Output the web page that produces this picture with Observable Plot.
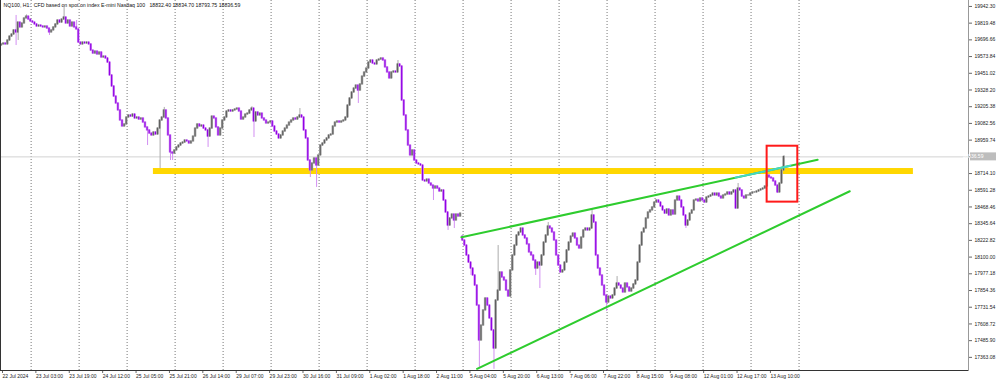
<!DOCTYPE html>
<html>
<head>
<meta charset="utf-8">
<script src="https://cdn.jsdelivr.net/npm/d3@7"></script>
<script src="https://cdn.jsdelivr.net/npm/@observablehq/plot@0.6"></script>
<style>
  html, body { margin: 0; padding: 0; background: #fff; }
  #chart { width: 1000px; height: 384px; }
</style>
</head>
<body>
<div id="chart"></div>
<script>
// ---- Data (NQ100, H1) ----
const headerText = "NQ100, H1:  CFD based on spot on index E-mini Nasdaq 100   18832.40 18834.70 18793.75 18836.59";
const firstOpen = 19655;
const closes = [
19663,19670,19663,19692,19721,19736,19766,19751,19824,19788,
19817,19854,19868,19846,19832,19824,19810,19795,19802,19795,
19788,19795,19780,19751,19766,19788,19810,19839,19824,19846,
19861,19817,19839,19795,19824,19788,19773,19677,19663,19677,
19670,19677,19663,19618,19596,19611,19589,19604,19567,19574,
19560,19530,19435,19354,19280,19229,19178,19104,19060,19075,
19126,19141,19133,19148,19119,19126,19111,19119,19089,19053,
19031,19008,18994,19016,19001,19045,19104,19126,19178,19119,
18994,18869,18861,18884,18906,18920,18935,18942,18957,18950,
18935,18950,18986,19045,19075,19060,19067,19045,19031,18986,
19045,19133,19119,19053,18994,19045,19104,19126,19170,19178,
19170,19178,19185,19192,19170,19111,19126,19148,19155,19178,
19192,19097,19163,19141,19155,19119,19104,19082,19089,19097,
19060,19023,19001,18972,18994,19023,19045,19067,19089,19104,
19119,19111,19126,19141,19126,19031,18972,18810,18737,18788,
18825,18773,18847,18920,18935,18957,18972,18994,19001,19060,
19089,19097,19089,19097,19104,19126,19214,19266,19310,19339,
19361,19324,19369,19427,19457,19486,19530,19545,19523,19516,
19545,19552,19560,19545,19494,19457,19413,19457,19464,19457,
19516,19501,19251,19141,19031,18920,18847,18884,18810,18788,
18781,18773,18663,18656,18670,18641,18626,18604,18619,18604,
18582,18590,18516,18428,18332,18384,18413,18369,18413,18398,
18420,18222,18185,18112,18060,18016,17965,17891,17744,17487,
17597,17708,17796,17744,17649,17561,17428,17781,17854,17987,
17950,17928,17854,17810,18002,18112,18185,18259,18281,18310,
18259,18237,18193,18134,18112,18075,18016,18060,18038,18112,
18207,18259,18325,18310,18281,18222,18112,18038,17987,18002,
18060,18149,18207,18251,18273,18237,18185,18163,18244,18296,
18310,18296,18310,18406,18354,18112,18016,17965,17891,17818,
17766,17810,17796,17818,17869,17906,17891,17869,17840,17906,
17877,17847,17869,17899,17928,18060,18185,18281,18310,18384,
18428,18443,18465,18501,18516,18501,18472,18443,18420,18450,
18406,18443,18413,18516,18545,18516,18465,18406,18332,18369,
18420,18443,18516,18523,18509,18531,18516,18501,18538,18545,
18553,18567,18553,18567,18545,18531,18553,18560,18575,18560,
18575,18590,18457,18604,18590,18545,18531,18553,18553,18567,
18575,18575,18582,18590,18597,18604,18619,18700,18685,18678,
18656,18626,18575,18641,18737,18836.59
];
// opens that differ from the previous close (weekend gap)
const openGaps = [[221, 18251]];
// notable upper / lower shadows [bar, price]
const wickHighs = [[7,19876],[12,19880],[30,19935],[36,19839],[78,19200],[120,19205],[143,19192],
  [190,19545],[238,18185],[262,18354],[283,18457],[295,17957],[353,18641],[375,18845]];
const wickLows = [[7,19655],[8,19692],[23,19729],[70,18920],[76,18751],[81,18810],[82,18810],
  [99,18906],[121,18979],[148,18685],[151,18612],[171,19229],[207,18516],[214,18296],[217,18310],
  [225,17965],[229,17289],[236,17275],[256,17965],[258,17869],[290,17700],[328,18310],[372,18567]];

// price axis ticks and time axis labels (every 16 bars)
const yTicks = [17363.08,17485.90,17608.72,17731.54,17854.36,17977.18,18100.00,18222.82,18345.64,
  18468.46,18591.28,18714.10,18836.92,18959.74,19082.56,19205.38,19328.20,19451.02,19573.84,
  19696.66,19819.48,19942.30];
const coveredTick = 18836.92; // hidden behind the current-price tag
const xLabels = ["22 Jul 2024","23 Jul 03:00","23 Jul 19:00","24 Jul 12:00","25 Jul 05:00","25 Jul 21:00",
  "26 Jul 14:00","29 Jul 07:00","29 Jul 23:00","30 Jul 16:00","31 Jul 09:00","1 Aug 02:00","1 Aug 18:00",
  "2 Aug 11:00","5 Aug 04:00","5 Aug 20:00","6 Aug 13:00","7 Aug 06:00","7 Aug 22:00","8 Aug 15:00",
  "9 Aug 08:00","12 Aug 01:00","12 Aug 17:00","13 Aug 10:00"];
const labelEvery = 16;
const gridStart = 14.2, gridEvery = 23, gridCount = 17;

// drawing annotations (bar index, price)
const supportLevel = {from: 72.8, to: 437, low: 18707, high: 18751};
const upperTrend = [{i: 220.4, p: 18246}, {i: 391.1, p: 18815}];
const upperHighlight = [{i: 351.7, p: 18684}, {i: 378, p: 18771}];
const lowerTrend = [{i: 227.9, p: 17279}, {i: 406.5, p: 18584}];
const boxZone = {x1: 366.9, x2: 381.6, y1: 18504, y2: 18915};

// ---- Build bars ----
const gapMap = new Map(openGaps);
const hiMap = new Map(wickHighs);
const loMap = new Map(wickLows);
const bars = closes.map((c, i) => {
  const o = gapMap.has(i) ? gapMap.get(i) : (i === 0 ? firstOpen : closes[i - 1]);
  const hi = Math.max(o, c, hiMap.get(i) ?? -Infinity);
  const lo = Math.min(o, c, loMap.get(i) ?? Infinity);
  return {i, open: o, close: c, high: hi, low: lo, up: c >= o};
});
const lastClose = closes[closes.length - 1];
const xTicks = xLabels.map((_, k) => k * labelEvery);
const gridX = d3.range(gridCount).map(k => gridStart + k * gridEvery);

const UP = "#5f5f5f", DOWN = "#9000e6";
const UPW = "#ababab", DOWNW = "#d28ff2";

const chart = Plot.plot({
  width: 1000, height: 384,
  marginTop: 0, marginLeft: 0, marginRight: 32, marginBottom: 14,
  style: {fontFamily: "'Liberation Sans', Arial, sans-serif", fontSize: "5px", background: "#fff", overflow: "visible"},
  x: {type: "linear", domain: [-0.48, 463.4], axis: null},
  y: {domain: [17266.5, 19986], axis: null},
  marks: [
    // period separators
    Plot.ruleX(gridX, {stroke: "#555", strokeWidth: 0.8, strokeDasharray: "1,2"}),
    // current price line
    Plot.ruleY([lastClose], {stroke: "#d2d2d2", strokeWidth: 1}),
    // support band
    Plot.rect([supportLevel], {x1: "from", x2: "to", y1: "low", y2: "high", fill: "#ffd700"}),
    // wicks
    Plot.ruleX(bars, {x: "i", y1: "low", y2: "high", stroke: d => d.up ? UPW : DOWNW, strokeWidth: 1}),
    // body halo
    Plot.rect(bars, {x1: d => d.i - 0.6, x2: d => d.i + 0.6, y1: "open", y2: "close",
      fill: d => d.up ? UPW : DOWNW, insetTop: -0.5, insetBottom: -0.5}),
    // body core
    Plot.rect(bars, {x1: d => d.i - 0.28, x2: d => d.i + 0.28, y1: "open", y2: "close",
      fill: d => d.up ? UP : DOWN, insetTop: -0.5, insetBottom: -0.5}),
    // trend lines
    Plot.line(upperTrend, {x: "i", y: "p", stroke: "#2ecc2e", strokeWidth: 2}),
    Plot.line(upperHighlight, {x: "i", y: "p", stroke: "#44d6c8", strokeWidth: 2}),
    Plot.line(lowerTrend, {x: "i", y: "p", stroke: "#2ecc2e", strokeWidth: 2}),
    // breakout box
    Plot.rect([boxZone], {x1: "x1", x2: "x2", y1: "y1", y2: "y2", fill: "none", stroke: "#ff1a1a", strokeWidth: 2}),
    // axes
    Plot.axisY(yTicks, {anchor: "right", tickSize: 3, tickPadding: 3,
      tickFormat: d => d === coveredTick ? "" : d.toFixed(2),
      fontSize: 5, fill: "#222", stroke: "#666"}),
    Plot.axisX(xTicks, {anchor: "bottom", tickSize: 3, tickPadding: 1, textAnchor: "start", dx: 1,
      tickFormat: d => xLabels[d / labelEvery], fontSize: 5, fill: "#222", stroke: "#666"}),
    Plot.frame({anchor: "bottom", stroke: "#333"}),
    Plot.frame({anchor: "left", stroke: "#333"}),
    Plot.frame({anchor: "right", stroke: "#999"}),
    // header
    Plot.text([headerText], {frameAnchor: "top-left", dx: 3, dy: 3, fontSize: 5.2, fill: "#111", textAnchor: "start"})
  ]
});

// current price tag on the price axis
const svg = d3.select(chart);
const yPos = chart.scale("y").apply(lastClose);
const xEdge = chart.scale("x").apply(463.4);
svg.append("rect").attr("x", xEdge + 2).attr("y", yPos - 4).attr("width", 26).attr("height", 8).attr("fill", "#bdbdbd");
svg.append("text").attr("x", xEdge + 5).attr("y", yPos + 1.8).attr("fill", "#fff")
  .attr("font-size", 5).attr("font-family", "'Liberation Sans', Arial, sans-serif").text(lastClose.toFixed(2));

document.getElementById("chart").appendChild(chart);
</script>
</body>
</html>
